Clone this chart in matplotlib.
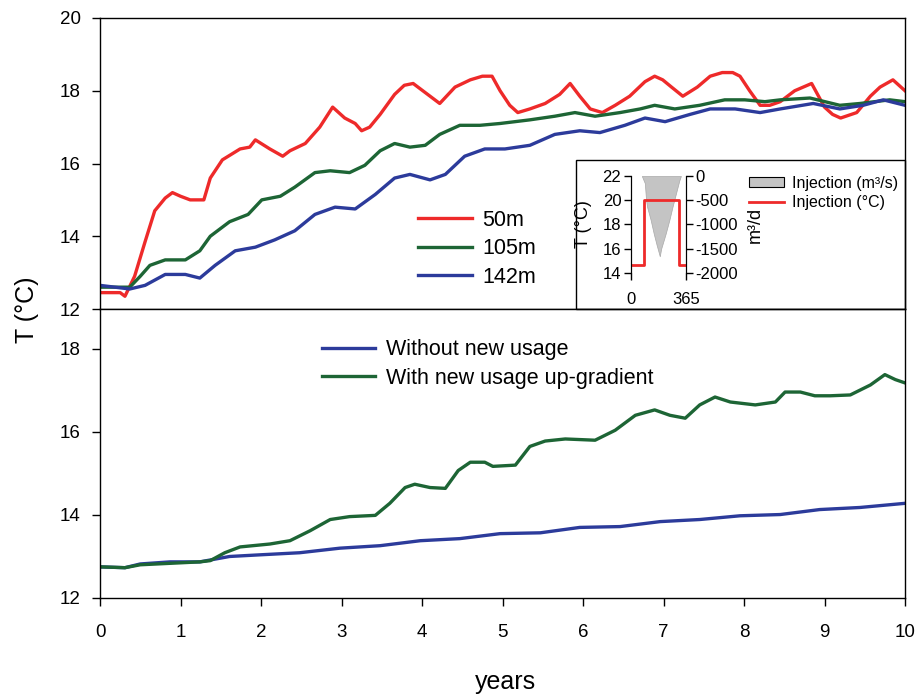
import matplotlib
matplotlib.use("Agg")
import matplotlib.pyplot as plt
from matplotlib.patches import Rectangle, Patch
from matplotlib.lines import Line2D

plt.rcParams['font.family'] = ['Liberation Sans', 'DejaVu Sans']
plt.rcParams['axes.unicode_minus'] = False

RED = '#ee2a2a'
GREEN = '#1d6535'
BLUE = '#2c3b9b'

# --- upper panel: temperature at three distances ---
yr_50 = [0, 0.25, 0.31, 0.43, 0.56, 0.68, 0.81, 0.9, 1.0, 1.12, 1.29, 1.37, 1.52, 1.74, 1.86,
         1.93, 2.11, 2.27, 2.36, 2.55, 2.73, 2.89, 3.04, 3.17, 3.25, 3.35, 3.48, 3.66, 3.78,
         3.89, 4.04, 4.22, 4.41, 4.6, 4.75, 4.87, 4.97, 5.09, 5.19, 5.34, 5.53, 5.71, 5.84,
         5.96, 6.09, 6.24, 6.4, 6.58, 6.77, 6.89, 6.99, 7.1, 7.24, 7.42, 7.58, 7.73, 7.86,
         7.95, 8.07, 8.2, 8.32, 8.45, 8.63, 8.84, 9.0, 9.1, 9.2, 9.4, 9.57, 9.69, 9.85, 9.9, 10]
t_50 = [12.45, 12.45, 12.35, 12.9, 13.85, 14.7, 15.05, 15.2, 15.1, 15.0, 15.0, 15.6, 16.1, 16.4, 16.45,
        16.65, 16.4, 16.2, 16.35, 16.55, 17.0, 17.55, 17.25, 17.1, 16.9, 17.0, 17.35, 17.9, 18.15,
        18.2, 17.95, 17.65, 18.1, 18.3, 18.4, 18.4, 18.0, 17.6, 17.4, 17.5, 17.65, 17.9, 18.2,
        17.85, 17.5, 17.4, 17.6, 17.85, 18.25, 18.4, 18.3, 18.1, 17.85, 18.1, 18.4, 18.5, 18.5,
        18.4, 18.0, 17.6, 17.6, 17.7, 18.0, 18.2, 17.55, 17.35, 17.25, 17.4, 17.85, 18.1, 18.3, 18.2, 18.0]

yr_105 = [0, 0.37, 0.5, 0.62, 0.81, 1.06, 1.24, 1.37, 1.61, 1.84, 2.01, 2.24, 2.42, 2.67, 2.86,
          3.1, 3.29, 3.48, 3.66, 3.85, 4.04, 4.22, 4.47, 4.72, 4.97, 5.34, 5.65, 5.9, 6.15, 6.46,
          6.71, 6.89, 7.14, 7.45, 7.76, 8.01, 8.26, 8.45, 8.82, 9.19, 9.44, 9.81, 10]
t_105 = [12.6, 12.6, 12.9, 13.2, 13.35, 13.35, 13.6, 14.0, 14.4, 14.6, 15.0, 15.1, 15.35, 15.75, 15.8,
         15.75, 15.95, 16.35, 16.55, 16.45, 16.5, 16.8, 17.05, 17.05, 17.1, 17.2, 17.3, 17.4, 17.3, 17.4,
         17.5, 17.6, 17.5, 17.6, 17.75, 17.75, 17.7, 17.75, 17.8, 17.6, 17.65, 17.75, 17.7]

yr_142 = [0, 0.37, 0.56, 0.81, 1.06, 1.24, 1.43, 1.68, 1.93, 2.17, 2.42, 2.67, 2.92, 3.17, 3.42,
          3.66, 3.85, 4.1, 4.29, 4.53, 4.78, 5.03, 5.34, 5.65, 5.96, 6.21, 6.52, 6.77, 7.02, 7.33,
          7.58, 7.89, 8.2, 8.45, 8.86, 9.19, 9.48, 9.73, 10]
t_142 = [12.65, 12.55, 12.65, 12.95, 12.95, 12.85, 13.2, 13.6, 13.7, 13.9, 14.15, 14.6, 14.8, 14.75, 15.15,
         15.6, 15.7, 15.55, 15.7, 16.2, 16.4, 16.4, 16.5, 16.8, 16.9, 16.85, 17.05, 17.25, 17.15, 17.35,
         17.5, 17.5, 17.4, 17.5, 17.65, 17.5, 17.6, 17.75, 17.6]

# --- lower panel: with / without new usage ---
yr_without = [0, 0.31, 0.5, 0.87, 1.24, 1.61, 1.99, 2.48, 2.98, 3.48, 3.98, 4.47, 4.97, 5.47, 5.96,
              6.46, 6.96, 7.45, 7.95, 8.45, 8.94, 9.44, 10]
t_without = [12.75, 12.73, 12.82, 12.87, 12.87, 13.0, 13.04, 13.09, 13.2, 13.26, 13.38, 13.43, 13.55,
             13.57, 13.7, 13.72, 13.84, 13.89, 13.98, 14.01, 14.13, 14.18, 14.28]

yr_with = [0, 0.31, 0.5, 1.24, 1.37, 1.55, 1.74, 2.11, 2.36, 2.61, 2.86, 3.1, 3.42, 3.6, 3.79, 3.91,
           4.1, 4.29, 4.45, 4.6, 4.78, 4.88, 5.16, 5.34, 5.53, 5.78, 6.15, 6.4, 6.65, 6.89, 7.08,
           7.27, 7.45, 7.64, 7.83, 8.14, 8.39, 8.51, 8.7, 8.88, 9.07, 9.32, 9.57, 9.75, 9.88, 10]
t_with = [12.75, 12.73, 12.8, 12.87, 12.9, 13.09, 13.23, 13.3, 13.38, 13.62, 13.89, 13.96, 13.99, 14.28,
          14.66, 14.74, 14.66, 14.64, 15.07, 15.27, 15.27, 15.17, 15.2, 15.65, 15.78, 15.83, 15.8, 16.04,
          16.4, 16.53, 16.4, 16.33, 16.65, 16.84, 16.72, 16.65, 16.72, 16.96, 16.96, 16.87, 16.87, 16.89,
          17.13, 17.38, 17.26, 17.18]

# --- inset: yearly injection cycle ---
inj_day = [72, 80, 92, 100, 108, 130, 151, 170, 191, 200, 230, 255, 275, 295, 320, 331]
inj_rate = [0, -60, -150, -500, -650, -900, -1190, -1420, -1655, -1500, -1190, -900, -640, -400, -100, 0]
temp_day = [0, 86, 86, 318, 318, 365]
temp_inj = [14.7, 14.7, 20, 20, 14.7, 14.7]

fig = plt.figure(figsize=(9.19, 6.97), dpi=100)
L, W = 100 / 919, 805 / 919
ax1 = fig.add_axes([L, 1 - 309 / 697, W, 291 / 697])
ax2 = fig.add_axes([L, 1 - 598 / 697, W, 289 / 697])

tick_kw = dict(direction='out', length=6, width=1, labelsize=13.5)

ax1.plot(yr_50, t_50, color=RED, lw=2.4, label='50m')
ax1.plot(yr_105, t_105, color=GREEN, lw=2.4, label='105m')
ax1.plot(yr_142, t_142, color=BLUE, lw=2.4, label='142m')
ax1.set_xlim(0, 10)
ax1.set_ylim(12, 20)
ax1.set_yticks([12, 14, 16, 18, 20])
ax1.tick_params(axis='y', pad=8, **tick_kw)
ax1.tick_params(axis='x', bottom=False, labelbottom=False)

ax2.plot(yr_without, t_without, color=BLUE, lw=2.4, label='Without new usage')
ax2.plot(yr_with, t_with, color=GREEN, lw=2.4, label='With new usage up-gradient')
ax2.set_xlim(0, 10)
ax2.set_ylim(12, 18.96)
ax2.set_yticks([12, 14, 16, 18])
ax2.set_xticks(range(11))
ax2.tick_params(axis='y', pad=8, **tick_kw)
ax2.tick_params(axis='x', pad=13, **tick_kw)

for ax in (ax1, ax2):
    for s in ax.spines.values():
        s.set_linewidth(1.0)

leg_kw = dict(frameon=False, fontsize=15.5, borderpad=0, borderaxespad=0,
              handletextpad=0.5, labelspacing=0.35, loc='center left',
              bbox_transform=fig.transFigure)
ax1.legend(bbox_to_anchor=(418 / 919, 1 - 249 / 697), handlelength=2.5, **leg_kw)
ax2.legend(bbox_to_anchor=(322 / 919, 1 - 364 / 697), handlelength=2.45, **leg_kw)

fig.text(27 / 919, 1 - 310 / 697, 'T (°C)', rotation=90, fontsize=18, ha='center', va='center')
fig.text(505 / 919, 1 - 682 / 697, 'years', fontsize=18, ha='center', va='center')

# inset frame
fig.add_artist(Rectangle((576 / 919, 1 - 309 / 697), 329 / 919, 149 / 697,
                         transform=fig.transFigure, fill=False, edgecolor='black', lw=1.0))

axi = fig.add_axes([631 / 919, 1 - 273 / 697, 55 / 919, 97 / 697])
axr = axi.twinx()
axr.fill_between(inj_day, inj_rate, 0, facecolor='#c4c4c4', edgecolor='#a8a8a8', lw=0.5)
axr.set_ylim(-2000, 0)
axr.set_yticks([-2000, -1500, -1000, -500, 0])
axi.plot(temp_day, temp_inj, color=RED, lw=2)
axi.set_xlim(0, 365)
axi.set_ylim(14, 22)
axi.set_yticks([14, 16, 18, 20, 22])
axi.set_xticks([0, 365])
axi.set_zorder(axr.get_zorder() + 1)
axi.patch.set_visible(False)
for a in (axi, axr):
    a.spines['top'].set_visible(False)
    a.spines['bottom'].set_visible(False)
    a.tick_params(direction='out', length=5, width=1, labelsize=12, pad=2)
axi.tick_params(axis='x', pad=9)

fig.text(583 / 919, 1 - 224 / 697, 'T (°C)', rotation=90, fontsize=13, ha='center', va='center')
fig.text(755 / 919, 1 - 225 / 697, 'm³/d', rotation=90, fontsize=13, ha='center', va='center')

fig.legend(handles=[Patch(facecolor='#c4c4c4', edgecolor='black', lw=0.8),
                    Line2D([], [], color=RED, lw=2)],
           labels=['Injection (m³/s)', 'Injection (°C)'],
           loc='center left', bbox_to_anchor=(749 / 919, 1 - 193 / 697),
           frameon=False, fontsize=11.5, handlelength=2.2, handleheight=0.65,
           handletextpad=0.5, borderpad=0, borderaxespad=0, labelspacing=0.3)

fig.savefig('out.png', dpi=100)
